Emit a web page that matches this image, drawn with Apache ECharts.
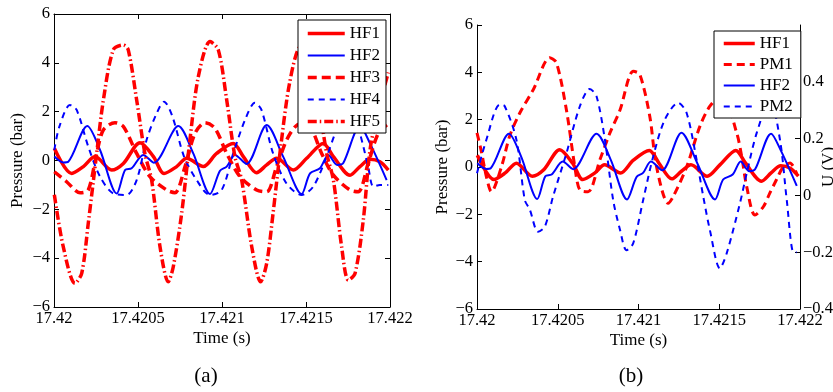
<!DOCTYPE html>
<html>
<head>
<meta charset="utf-8">
<script src="https://cdn.jsdelivr.net/npm/echarts@6/dist/echarts.min.js"></script>
<style>html,body{margin:0;padding:0;background:#fff}#c{width:833px;height:392px}</style>
</head>
<body>
<div id="c"></div>
<script>
// Time offsets are in microseconds after T0 = 17.42 s
const T0 = 17.42;
const xTickLabels = ['17.42', '17.4205', '17.421', '17.4215', '17.422'];
const yTickPressure = [-6, -4, -2, 0, 2, 4, 6];

const hf1T = [2,105,175,244,343,413,512,592,655,730,790,889,968,1067,1127,1206,1266,1325,1425,1504,1603,1663,1762,1821,1881,1940,1990];
const hf1V = [0.5,-0.53,-0.25,0.16,-0.39,-0.12,0.73,0.16,-0.53,-0.25,0.09,-0.25,0.29,0.7,0.16,-0.5,-0.18,0.09,-0.39,0.09,0.7,0.16,-0.6,-0.25,0.05,-0.05,-0.39];

const hf2T = [2,55,85,198,274,373,423,462,531,595,740,829,929,988,1028,1077,1146,1266,1364,1474,1524,1583,1633,1686,1722,1821,1881,1980];
const hf2V = [0.16,-0.08,-0.05,1.41,0.43,-1.35,-0.39,-0.32,0.23,-0.09,1.41,0.29,-1.37,-0.42,-0.25,0.23,-0.14,1.45,0.16,-1.37,-0.53,-0.32,0.23,-0.18,-0.1,1.41,0.7,-0.8];

const hf3T = [2,75,155,204,254,294,363,413,492,571,671,720,780,839,899,958,1028,1107,1206,1266,1325,1395,1464,1524,1593,1663,1762,1811,1870,1930,1990];
const hf3V = [-0.46,-0.87,-1.32,-1.21,0.29,1.25,1.55,1.39,0.29,-0.66,-1.21,-1.32,-0.25,1.11,1.55,1.32,0.29,-0.66,-1.21,-1.28,-0.25,0.98,1.5,1.39,0.29,-0.6,-1.21,-1.28,-0.12,1.11,1.5];

const hf4T = [2,32,95,135,204,274,353,432,492,551,611,655,705,774,849,929,998,1067,1137,1196,1235,1304,1384,1474,1543,1623,1682,1762,1821,1870,1901,1940,1990];
const hf4V = [0.43,1.39,2.27,2.07,0.57,-0.66,-1.35,-1.41,-0.8,0.84,1.93,2.41,1.8,0.16,-0.8,-1.41,-1.21,0.29,1.66,2.37,2.07,0.29,-0.94,-1.41,-1.07,0.16,1.25,2.3,1.11,-0.25,-1.07,-1.0,-1.0];

const hf5T = [2,55,125,165,204,254,294,353,413,442,492,541,581,631,680,710,760,809,859,929,978,1028,1077,1117,1177,1230,1266,1304,1352,1402,1464,1510,1573,1623,1663,1712,1752,1792,1841,1881,1930,1990];
const hf5V = [-1.4,-3.53,-5.03,-4.62,-2.57,0.29,2.48,4.53,4.73,4.53,2.48,0.29,-0.8,-3.53,-4.97,-4.35,-2.16,0.84,3.43,4.87,4.53,2.48,0.16,-0.8,-3.53,-4.97,-4.21,-2.16,0.7,3.16,4.66,4.7,2.48,0.29,-0.8,-3.53,-4.9,-4.62,-2.44,0.43,2.07,3.6];

// PM signals in volts (right axis of panel b)
const pm1T = [0,27,58,89,151,203,265,349,451,492,554,606,637,688,761,823,885,968,1008,1070,1112,1184,1215,1298,1380,1442,1517,1608,1639,1670,1721,1773,1813,1854,1896,1938,1979];
const pm1V = [0.22,0.155,0.066,0.013,0.10,0.21,0.29,0.373,0.485,0.467,0.30,0.10,0.019,0.013,0.125,0.22,0.30,0.437,0.426,0.278,0.10,-0.028,-0.004,0.10,0.243,0.314,0.355,0.22,0.137,0.031,-0.069,-0.04,0.008,0.055,0.10,0.114,0.078];

const pm2T = [0,58,141,172,244,296,327,378,420,471,554,637,698,740,792,843,885,926,967,1029,1091,1163,1246,1298,1360,1401,1442,1504,1546,1628,1670,1732,1814,1876,1918,1960,1979];
const pm2V = [0.078,0.196,0.32,0.314,0.196,-0.016,-0.05,-0.128,-0.11,-0.004,0.149,0.314,0.375,0.349,0.196,-0.016,-0.12,-0.193,-0.169,-0.016,0.137,0.267,0.326,0.29,0.125,-0.004,-0.122,-0.257,-0.204,-0.028,0.078,0.22,0.337,0.196,-0.016,-0.2,-0.2];

const zip = (t, v) => t.map((x, i) => [x, v[i]]);
const FONT = 'Liberation Serif';
const RED = '#ff0000', BLUE = '#0000ff';

const styles = {
  HF1: { color: RED, width: 3.5, type: 'solid' },
  HF2: { color: BLUE, width: 2, type: 'solid' },
  HF3: { color: RED, width: 3.5, type: [9, 5] },
  HF4: { color: BLUE, width: 2, type: [6, 5] },
  HF5: { color: RED, width: 3.5, type: [9, 3, 1.5, 3] },
  PM1: { color: RED, width: 3, type: [8, 5] },
  PM2: { color: BLUE, width: 2, type: [6, 5] }
};

function mkSeries(name, data, xi, yi) {
  const s = styles[name];
  return {
    type: 'line', name, data, xAxisIndex: xi, yAxisIndex: yi,
    symbol: 'none', showSymbol: false, animation: false, silent: true,
    smooth: 0.3,
    color: s.color,
    lineStyle: { color: s.color, width: s.width, type: s.type, cap: 'butt', join: 'round' }
  };
}

const minus = s => String(s).replace('-', '\u2212');
const labelStyle = { color: '#000', fontFamily: FONT, fontSize: 16.5 };
const axisLine = { show: true, onZero: false, lineStyle: { color: '#000', width: 1 } };
const tickIn = { show: true, inside: true, length: 5, lineStyle: { color: '#000', width: 1 } };

function xAx(grid, pos, showLabel, name) {
  return {
    type: 'value', gridIndex: grid, position: pos, min: 0, max: 2000, interval: 500,
    axisLine, axisTick: tickIn, splitLine: { show: false },
    axisLabel: Object.assign({ show: showLabel, margin: 3, hideOverlap: false,
      formatter: v => xTickLabels[Math.round(v / 500)] }, labelStyle),
    name: name || '', nameLocation: 'middle', nameGap: 23, nameMoveOverlap: false,
    nameTextStyle: { color: '#000', fontFamily: FONT, fontSize: 17 }
  };
}
function yAx(grid, pos, showLabel, name, gap) {
  return {
    type: 'value', gridIndex: grid, position: pos,
    min: yTickPressure[0], max: yTickPressure[yTickPressure.length - 1], interval: 2,
    axisLine, axisTick: tickIn, splitLine: { show: false },
    axisLabel: Object.assign({ show: showLabel, margin: 4, formatter: v => minus(v) }, labelStyle),
    name: name || '', nameLocation: 'middle', nameGap: gap || 28, nameRotate: 90, nameMoveOverlap: false,
    nameTextStyle: { color: '#000', fontFamily: FONT, fontSize: 17 }
  };
}

function legendData(names) {
  return names.map(n => ({
    name: n,
    itemStyle: { opacity: 0 },
    lineStyle: { color: styles[n].color, width: styles[n].width, type: styles[n].type, opacity: 1 }
  }));
}
const legendCommon = {
  orient: 'vertical', selectedMode: false, backgroundColor: '#fff',
  borderColor: '#000', borderWidth: 1, borderRadius: 0, itemHeight: 14,
  textStyle: { color: '#000', fontFamily: FONT, fontSize: 17 }
};

const chart = echarts.init(document.getElementById('c'), null, { renderer: 'canvas' });
chart.setOption({
  animation: false,
  backgroundColor: '#fff',
  grid: [
    { left: 54, top: 14, width: 336, height: 293, outerBoundsMode: 'none', containLabel: false },
    { left: 477, top: 25, width: 323, height: 284, outerBoundsMode: 'none', containLabel: false }
  ],
  xAxis: [
    xAx(0, 'bottom', true, 'Time (s)'),
    xAx(0, 'top', false),
    xAx(1, 'bottom', true, 'Time (s)')
  ],
  yAxis: [
    yAx(0, 'left', true, 'Pressure (bar)', 28),
    yAx(0, 'right', false),
    yAx(1, 'left', true, 'Pressure (bar)', 26),
    {
      type: 'value', gridIndex: 1, position: 'right', min: -0.4, max: 0.6, interval: 0.2,
      axisLine, axisTick: tickIn, splitLine: { show: false },
      axisLabel: Object.assign({ show: true, margin: 3, showMaxLabel: false,
        formatter: v => minus(+v.toFixed(1)) }, labelStyle),
      name: 'U (V)', nameLocation: 'middle', nameGap: 20, nameRotate: 90, nameMoveOverlap: false,
      nameTextStyle: { color: '#000', fontFamily: FONT, fontSize: 17 }
    }
  ],
  legend: [
    Object.assign({ left: 298, top: 20, itemWidth: 37, itemGap: 5, padding: [5, 6, 3, 8],
      data: legendData(['HF1', 'HF2', 'HF3', 'HF4', 'HF5']) }, legendCommon),
    Object.assign({ left: 714, top: 31, itemWidth: 31, itemGap: 4, padding: [4, 8, 3, 8],
      data: legendData(['HF1', 'PM1', 'HF2', 'PM2']) }, legendCommon)
  ],
  graphic: [
    { type: 'text', x: 206, y: 376, style: { text: '(a)', font: '21px "Liberation Serif"', fill: '#000', align: 'center', verticalAlign: 'middle' } },
    { type: 'text', x: 631, y: 376, style: { text: '(b)', font: '21px "Liberation Serif"', fill: '#000', align: 'center', verticalAlign: 'middle' } }
  ],
  series: [
    mkSeries('HF1', zip(hf1T, hf1V), 0, 0),
    mkSeries('HF2', zip(hf2T, hf2V), 0, 0),
    mkSeries('HF3', zip(hf3T, hf3V), 0, 0),
    mkSeries('HF4', zip(hf4T, hf4V), 0, 0),
    mkSeries('HF5', zip(hf5T, hf5V), 0, 0),
    mkSeries('HF1', zip(hf1T, hf1V), 2, 2),
    mkSeries('PM1', zip(pm1T, pm1V), 2, 3),
    mkSeries('HF2', zip(hf2T, hf2V), 2, 2),
    mkSeries('PM2', zip(pm2T, pm2V), 2, 3)
  ]
});
</script>
</body>
</html>
